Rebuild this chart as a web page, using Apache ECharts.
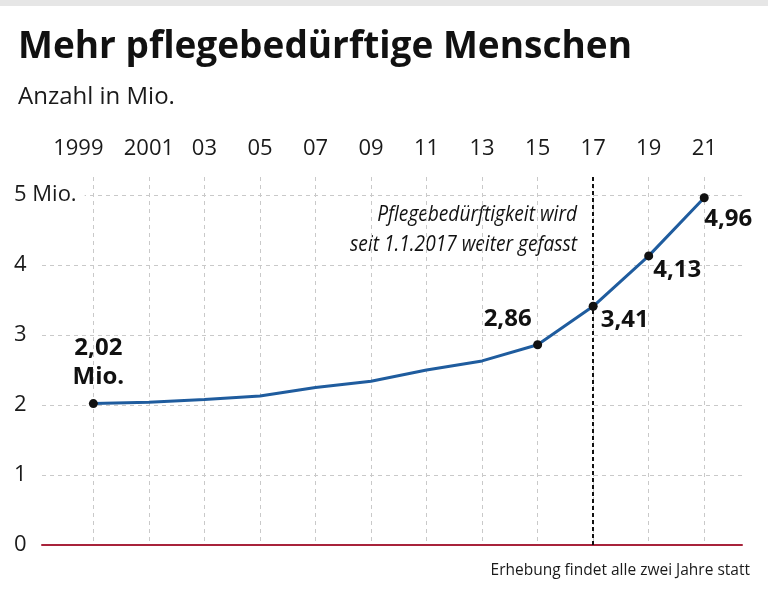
<!DOCTYPE html>
<html><head><meta charset="utf-8">
<script src="https://cdn.jsdelivr.net/npm/echarts@6/dist/echarts.min.js"></script>
<style>html,body{margin:0;padding:0;background:#fff}#c{width:768px;height:593px}</style>
</head><body><div id="c"></div>
<script>
const years = [1999, 2001, 2003, 2005, 2007, 2009, 2011, 2013, 2015, 2017, 2019, 2021];
const values = [2.02, 2.04, 2.08, 2.13, 2.25, 2.34, 2.50, 2.63, 2.86, 3.41, 4.13, 4.96];
const xTickLabels = ['1999', '2001', '03', '05', '07', '09', '11', '13', '15', '17', '19', '21'];
const yTicks = [0, 1, 2, 3, 4, 5];
const yTickLabels = ['0', '1', '2', '3', '4', '5 Mio.'];
const pointLabels = {1999: '2,02\nMio.', 2015: '2,86', 2017: '3,41', 2019: '4,13', 2021: '4,96'};
const reformYear = 2017;
const titleText = 'Mehr pflegebedürftige Menschen';
const subtitleText = 'Anzahl in Mio.';
const noteText = 'Pflegebedürftigkeit wird\nseit 1.1.2017 weiter gefasst';
const footText = 'Erhebung findet alle zwei Jahre statt';

const FONT = 'Open Sans';
const labelPos = {
  1999: {position: 'top', distance: 7, offset: [5, 0]},
  2015: {position: 'top', distance: 7, offset: [-30, 0]},
  2017: {position: 'right', distance: 3, offset: [0, 14]},
  2019: {position: 'right', distance: 0, offset: [0, 14]},
  2021: {position: 'bottom', distance: 2, offset: [24, 0]}
};

const seriesData = years.map((y, i) => {
  const item = {value: [y, values[i]]};
  if (pointLabels[y]) {
    const p = labelPos[y];
    item.symbolSize = 9;
    item.label = {show: true, formatter: pointLabels[y], position: p.position, distance: p.distance, offset: p.offset};
  } else {
    item.symbolSize = 0;
  }
  return item;
});

const chart = echarts.init(document.getElementById('c'), null, {renderer: 'canvas'});
const yMax = (545 - 177) / 70;
chart.setOption({
  animation: false,
  backgroundColor: '#fff',
  grid: {left: 42, right: 26, top: 177, bottom: 48},
  xAxis: [{
    type: 'value', position: 'top', min: 1997.15, max: 2022.36,
    axisLine: {show: false},
    axisTick: {show: false, customValues: years},
    axisLabel: {customValues: years, margin: 17, color: '#1a1a1a', fontFamily: FONT, fontSize: 22,
      formatter: v => { const t = xTickLabels[years.indexOf(Math.round(v))] || ''; return Math.round(v) === years[0] ? '{f|' + t + '}' : t; },
      rich: {f: {padding: [0, 30, 0, 0], color: '#1a1a1a', fontFamily: FONT, fontSize: 22}}},
    splitLine: {show: true, lineStyle: {color: '#c9c9c9', width: 1, type: [4, 4]}}
  }, {
    type: 'value', position: 'bottom', min: 1997.15, max: 2022.36,
    axisLine: {show: true, onZero: false, lineStyle: {color: '#a8233b', width: 2}},
    axisTick: {show: false}, axisLabel: {show: false}, splitLine: {show: false}
  }],
  yAxis: [{
    type: 'value', min: 0, max: yMax,
    axisLine: {show: false},
    axisTick: {show: false, customValues: yTicks},
    axisLabel: {show: false},
    splitLine: {show: true, lineStyle: {color: '#c9c9c9', width: 1, type: [4, 4]}}
  }, {
    type: 'value', min: 0, max: yMax, position: 'left', z: 5,
    axisLine: {show: false},
    axisTick: {show: false, customValues: yTicks},
    splitLine: {show: false},
    axisLabel: {customValues: yTicks, align: 'left', margin: 28, color: '#1a1a1a', fontFamily: FONT, fontSize: 22,
      formatter: v => { const t = yTickLabels[yTicks.indexOf(Math.round(v))]; return v === 5 ? '{w|' + t + '}' : t; },
      rich: {w: {backgroundColor: '#fff', padding: [2, 8, 2, 0], color: '#1a1a1a', fontFamily: FONT, fontSize: 22}}}
  }],
  series: [{
    type: 'line', xAxisIndex: 0, yAxisIndex: 0,
    data: seriesData,
    symbol: 'circle',
    showSymbol: true,
    lineStyle: {color: '#1f5c9e', width: 3},
    itemStyle: {color: '#111'},
    label: {color: '#111', fontFamily: FONT, fontWeight: 'bold', fontSize: 24, lineHeight: 29},
    markLine: {
      silent: true, symbol: 'none',
      label: {show: false},
      lineStyle: {color: '#111', type: [4, 3], width: 2},
      data: [{xAxis: reformYear}]
    },
    z: 3
  }],
  graphic: [
    {type: 'rect', shape: {x: 0, y: 0, width: 768, height: 6}, style: {fill: '#e6e6e6'}},
    {type: 'text', x: 18, y: 47, style: {text: titleText, font: 'bold 37px "' + FONT + '"', fill: '#111', verticalAlign: 'middle'}},
    {type: 'text', x: 18, y: 97, style: {text: subtitleText, font: '24px "' + FONT + '"', fill: '#1a1a1a', verticalAlign: 'middle'}},
    {type: 'text', x: 577, y: 230, scaleX: 0.91, style: {text: noteText, font: 'italic 21px "' + FONT + '"', fill: '#111', align: 'right', verticalAlign: 'middle', lineHeight: 30}},
    {type: 'text', x: 750, y: 571, style: {text: footText, font: '15.5px "' + FONT + '"', fill: '#1a1a1a', align: 'right', verticalAlign: 'middle'}}
  ]
});
</script></body></html>
